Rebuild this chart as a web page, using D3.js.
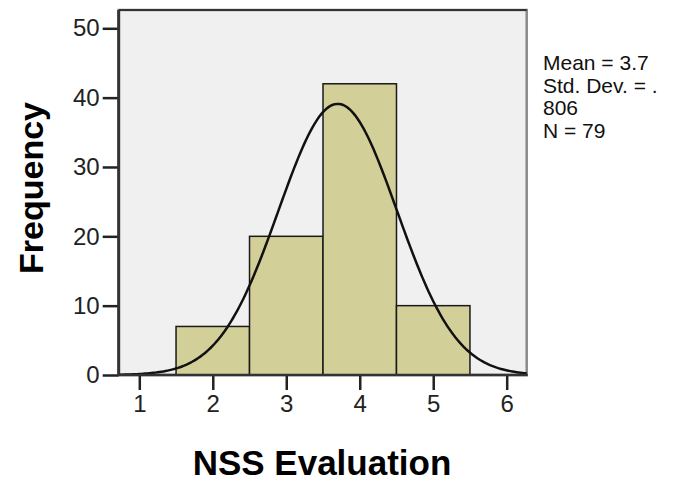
<!DOCTYPE html>
<html>
<head>
<meta charset="utf-8">
<script src="https://cdn.jsdelivr.net/npm/d3@7"></script>
<style>
  body { margin: 0; background: #fff; }
  text { font-family: "Liberation Sans", Arial, sans-serif; }
</style>
</head>
<body>
<svg id="chart" width="681" height="484"></svg>
<script>
// histogram bins (NSS Evaluation) and counts
var binLow = [1.5, 2.5, 3.5, 4.5];
var binHigh = [2.5, 3.5, 4.5, 5.5];
var counts = [7, 20, 42, 10];

// summary stats printed beside the chart
var mean = 3.7;
var stdDev = 0.806;
var nTotal = 79;
var statLines = ["Mean = 3.7", "Std. Dev. = .", "806", "N = 79"];

var xTicks = [1, 2, 3, 4, 5, 6];
var yTicks = [0, 10, 20, 30, 40, 50];

var plotL = 118.7, plotR = 526.7, plotT = 10, plotB = 375;

var svg = d3.select("#chart");

var x = d3.scaleLinear()
  .domain([1, 6])
  .range([139.3, 506.7]);
var xMin = x.invert(plotL), xMax = x.invert(plotR);

var y = d3.scaleLinear()
  .domain([0, 50])
  .range([plotB, 28.3]);

// plot background
svg.append("rect")
  .attr("x", plotL).attr("y", plotT)
  .attr("width", plotR - plotL).attr("height", plotB - plotT)
  .attr("fill", "#f0f0f0")
  .attr("stroke", "#8a8a8a")
  .attr("stroke-width", 2.5);
svg.append("line")
  .attr("x1", plotL).attr("x2", plotR).attr("y1", plotT).attr("y2", plotT)
  .attr("stroke", "#333").attr("stroke-width", 2);

// bars
var bins = counts.map(function (c, i) { return { lo: binLow[i], hi: binHigh[i], n: c }; });
svg.selectAll(".bar")
  .data(bins)
  .enter().append("rect")
  .attr("class", "bar")
  .attr("x", function (d) { return x(d.lo); })
  .attr("y", function (d) { return y(d.n); })
  .attr("width", function (d) { return x(d.hi) - x(d.lo); })
  .attr("height", function (d) { return y(0) - y(d.n); })
  .attr("fill", "#d3cf98")
  .attr("stroke", "#1a1a1a")
  .attr("stroke-width", 1.5);

// fitted normal curve (bin width 1)
var curve = d3.range(0, 201).map(function (i) {
  var v = xMin + (xMax - xMin) * i / 200;
  var z = (v - mean) / stdDev;
  return { v: v, f: nTotal / (stdDev * Math.sqrt(2 * Math.PI)) * Math.exp(-0.5 * z * z) };
});
svg.append("path")
  .datum(curve)
  .attr("fill", "none")
  .attr("stroke", "#111")
  .attr("stroke-width", 2.5)
  .attr("d", d3.line().x(function (d) { return x(d.v); }).y(function (d) { return y(d.f); }));

// axes
var yAxis = svg.append("g")
  .attr("transform", "translate(" + plotL + ",0)")
  .call(d3.axisLeft(y).tickValues(yTicks).tickFormat(d3.format("d")).tickSize(16).tickPadding(3).tickSizeOuter(0));
var xAxis = svg.append("g")
  .attr("transform", "translate(0," + plotB + ")")
  .call(d3.axisBottom(x).tickValues(xTicks).tickFormat(d3.format("d")).tickSize(15).tickPadding(5).tickSizeOuter(0));

[xAxis, yAxis].forEach(function (g) {
  g.select(".domain").remove();
  g.selectAll(".tick line").attr("stroke", "#222").attr("stroke-width", 2.5);
  g.selectAll(".tick text")
    .attr("fill", "#222")
    .style("font-size", "24px")
    .style("font-family", "'Liberation Sans', Arial, sans-serif");
});

svg.append("line")
  .attr("x1", plotL).attr("x2", plotL).attr("y1", plotT).attr("y2", plotB + 1)
  .attr("stroke", "#333").attr("stroke-width", 3);
svg.append("line")
  .attr("x1", plotL).attr("x2", plotR + 1).attr("y1", plotB).attr("y2", plotB)
  .attr("stroke", "#333").attr("stroke-width", 2.5);

// axis titles
svg.append("text")
  .attr("transform", "translate(43,188) rotate(-90)")
  .attr("text-anchor", "middle")
  .style("font-size", "34px")
  .style("font-weight", "bold")
  .text("Frequency");
svg.append("text")
  .attr("x", 322).attr("y", 475)
  .attr("text-anchor", "middle")
  .style("font-size", "35px")
  .style("font-weight", "bold")
  .text("NSS Evaluation");

// stats text
svg.selectAll(".stat")
  .data(statLines)
  .enter().append("text")
  .attr("class", "stat")
  .attr("x", 543)
  .attr("y", function (d, i) { return 70 + i * 22.7; })
  .style("font-size", "21px")
  .attr("fill", "#111")
  .text(function (d) { return d; });
</script>
</body>
</html>
